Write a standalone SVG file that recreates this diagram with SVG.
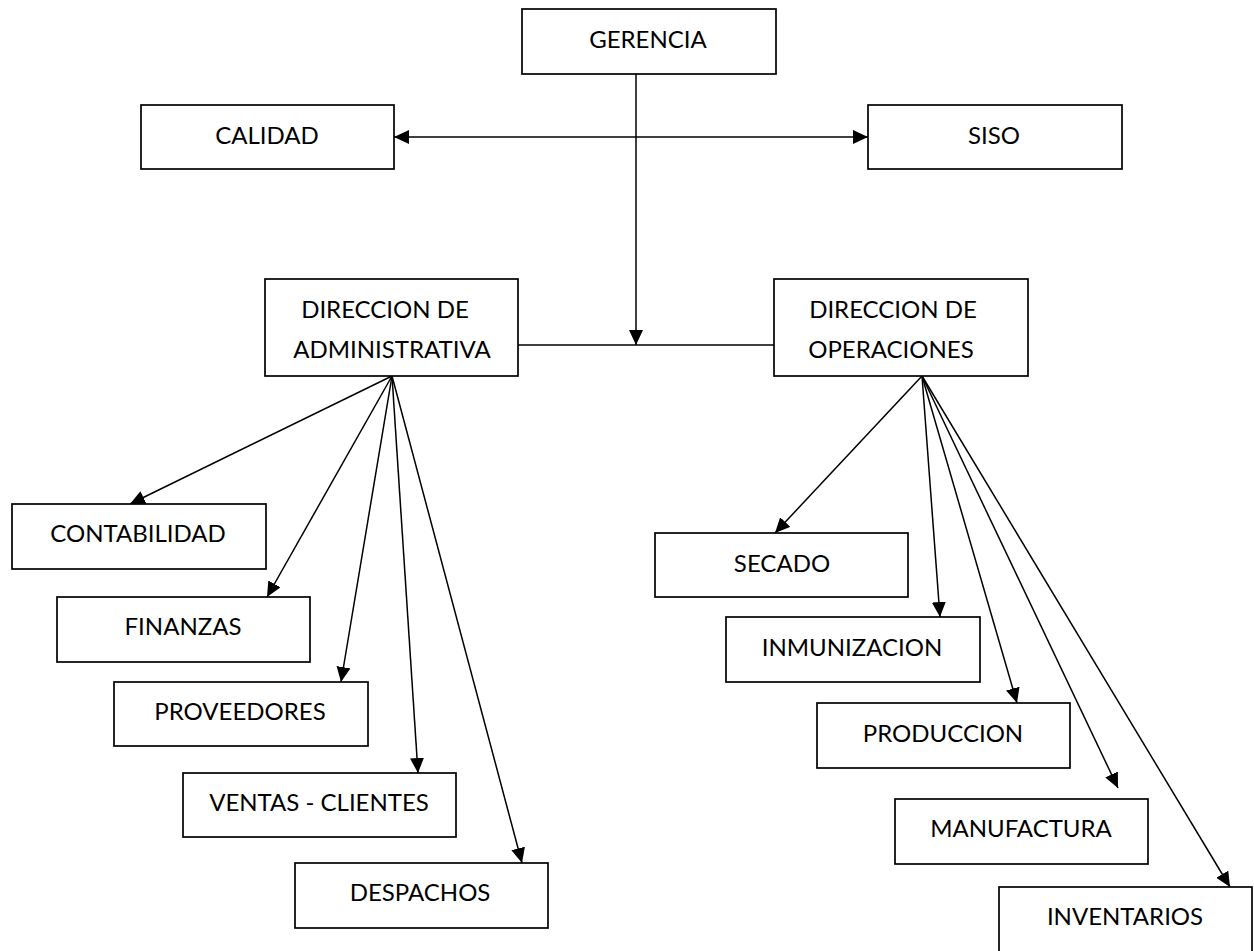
<svg xmlns="http://www.w3.org/2000/svg" width="1254" height="951" viewBox="0 0 1254 951">
  <style>
    .box { fill: #ffffff; stroke: #000000; stroke-width: 1.7; }
    .lbl { font-family: Lato, "Liberation Sans", sans-serif; font-size: 24px; fill: #000000; text-anchor: middle; }
    .conn { stroke: #000000; stroke-width: 1.5; fill: none; }
  </style>
  <defs>
    <marker id="arrow" viewBox="0 0 15 14" refX="15" refY="7" markerWidth="15" markerHeight="14" markerUnits="userSpaceOnUse" orient="auto-start-reverse">
      <path d="M0,0 L15,7 L0,14 Z" fill="#000000"/>
    </marker>
  </defs>
  <rect width="1254" height="951" fill="#ffffff"/>

  <!-- connectors -->
  <g id="connectors">
    <line class="conn" x1="636" y1="74" x2="636" y2="345" marker-end="url(#arrow)"/>
    <line class="conn" x1="394" y1="137" x2="868" y2="137" marker-start="url(#arrow)" marker-end="url(#arrow)"/>
    <line class="conn" x1="518" y1="345" x2="774" y2="345"/>
    <!-- administrative branch -->
    <line class="conn" x1="392" y1="376" x2="130" y2="504" marker-end="url(#arrow)"/>
    <line class="conn" x1="392" y1="376" x2="267" y2="597" marker-end="url(#arrow)"/>
    <line class="conn" x1="392" y1="376" x2="341" y2="682" marker-end="url(#arrow)"/>
    <line class="conn" x1="392" y1="376" x2="418" y2="773" marker-end="url(#arrow)"/>
    <line class="conn" x1="392" y1="376" x2="522" y2="863" marker-end="url(#arrow)"/>
    <!-- operations branch -->
    <line class="conn" x1="922" y1="376" x2="775" y2="533" marker-end="url(#arrow)"/>
    <line class="conn" x1="922" y1="376" x2="940" y2="617" marker-end="url(#arrow)"/>
    <line class="conn" x1="922" y1="376" x2="1017" y2="703" marker-end="url(#arrow)"/>
    <line class="conn" x1="922" y1="376" x2="1118" y2="788" marker-end="url(#arrow)"/>
    <line class="conn" x1="922" y1="376" x2="1230" y2="887" marker-end="url(#arrow)"/>
  </g>

  <g id="gerencia">
    <rect class="box" x="522" y="9" width="254" height="65"/>
    <text class="lbl" x="648" y="48">GERENCIA</text>
  </g>
  <g id="calidad">
    <rect class="box" x="141" y="105" width="253" height="64"/>
    <text class="lbl" x="267" y="144">CALIDAD</text>
  </g>
  <g id="siso">
    <rect class="box" x="868" y="105" width="254" height="64"/>
    <text class="lbl" x="994" y="144">SISO</text>
  </g>
  <g id="dir-administrativa">
    <rect class="box" x="265" y="279" width="253" height="97"/>
    <text class="lbl" x="385" y="318">DIRECCION DE</text>
    <text class="lbl" x="392" y="358">ADMINISTRATIVA</text>
  </g>
  <g id="dir-operaciones">
    <rect class="box" x="774" y="279" width="254" height="97"/>
    <text class="lbl" x="893" y="318">DIRECCION DE</text>
    <text class="lbl" x="891" y="358">OPERACIONES</text>
  </g>

  <g id="contabilidad">
    <rect class="box" x="12" y="504" width="254" height="65"/>
    <text class="lbl" x="138" y="542">CONTABILIDAD</text>
  </g>
  <g id="finanzas">
    <rect class="box" x="57" y="597" width="253" height="65"/>
    <text class="lbl" x="183" y="635">FINANZAS</text>
  </g>
  <g id="proveedores">
    <rect class="box" x="114" y="682" width="254" height="64"/>
    <text class="lbl" x="240" y="720">PROVEEDORES</text>
  </g>
  <g id="ventas-clientes">
    <rect class="box" x="183" y="773" width="273" height="64"/>
    <text class="lbl" x="319" y="811">VENTAS - CLIENTES</text>
  </g>
  <g id="despachos">
    <rect class="box" x="295" y="863" width="253" height="65"/>
    <text class="lbl" x="420" y="901">DESPACHOS</text>
  </g>

  <g id="secado">
    <rect class="box" x="655" y="533" width="253" height="64"/>
    <text class="lbl" x="782" y="572">SECADO</text>
  </g>
  <g id="inmunizacion">
    <rect class="box" x="726" y="617" width="254" height="65"/>
    <text class="lbl" x="852" y="656">INMUNIZACION</text>
  </g>
  <g id="produccion">
    <rect class="box" x="817" y="703" width="253" height="65"/>
    <text class="lbl" x="943" y="742">PRODUCCION</text>
  </g>
  <g id="manufactura">
    <rect class="box" x="895" y="799" width="253" height="65"/>
    <text class="lbl" x="1021" y="837">MANUFACTURA</text>
  </g>
  <g id="inventarios">
    <rect class="box" x="999" y="887" width="253" height="70"/>
    <text class="lbl" x="1125" y="925">INVENTARIOS</text>
  </g>
</svg>
